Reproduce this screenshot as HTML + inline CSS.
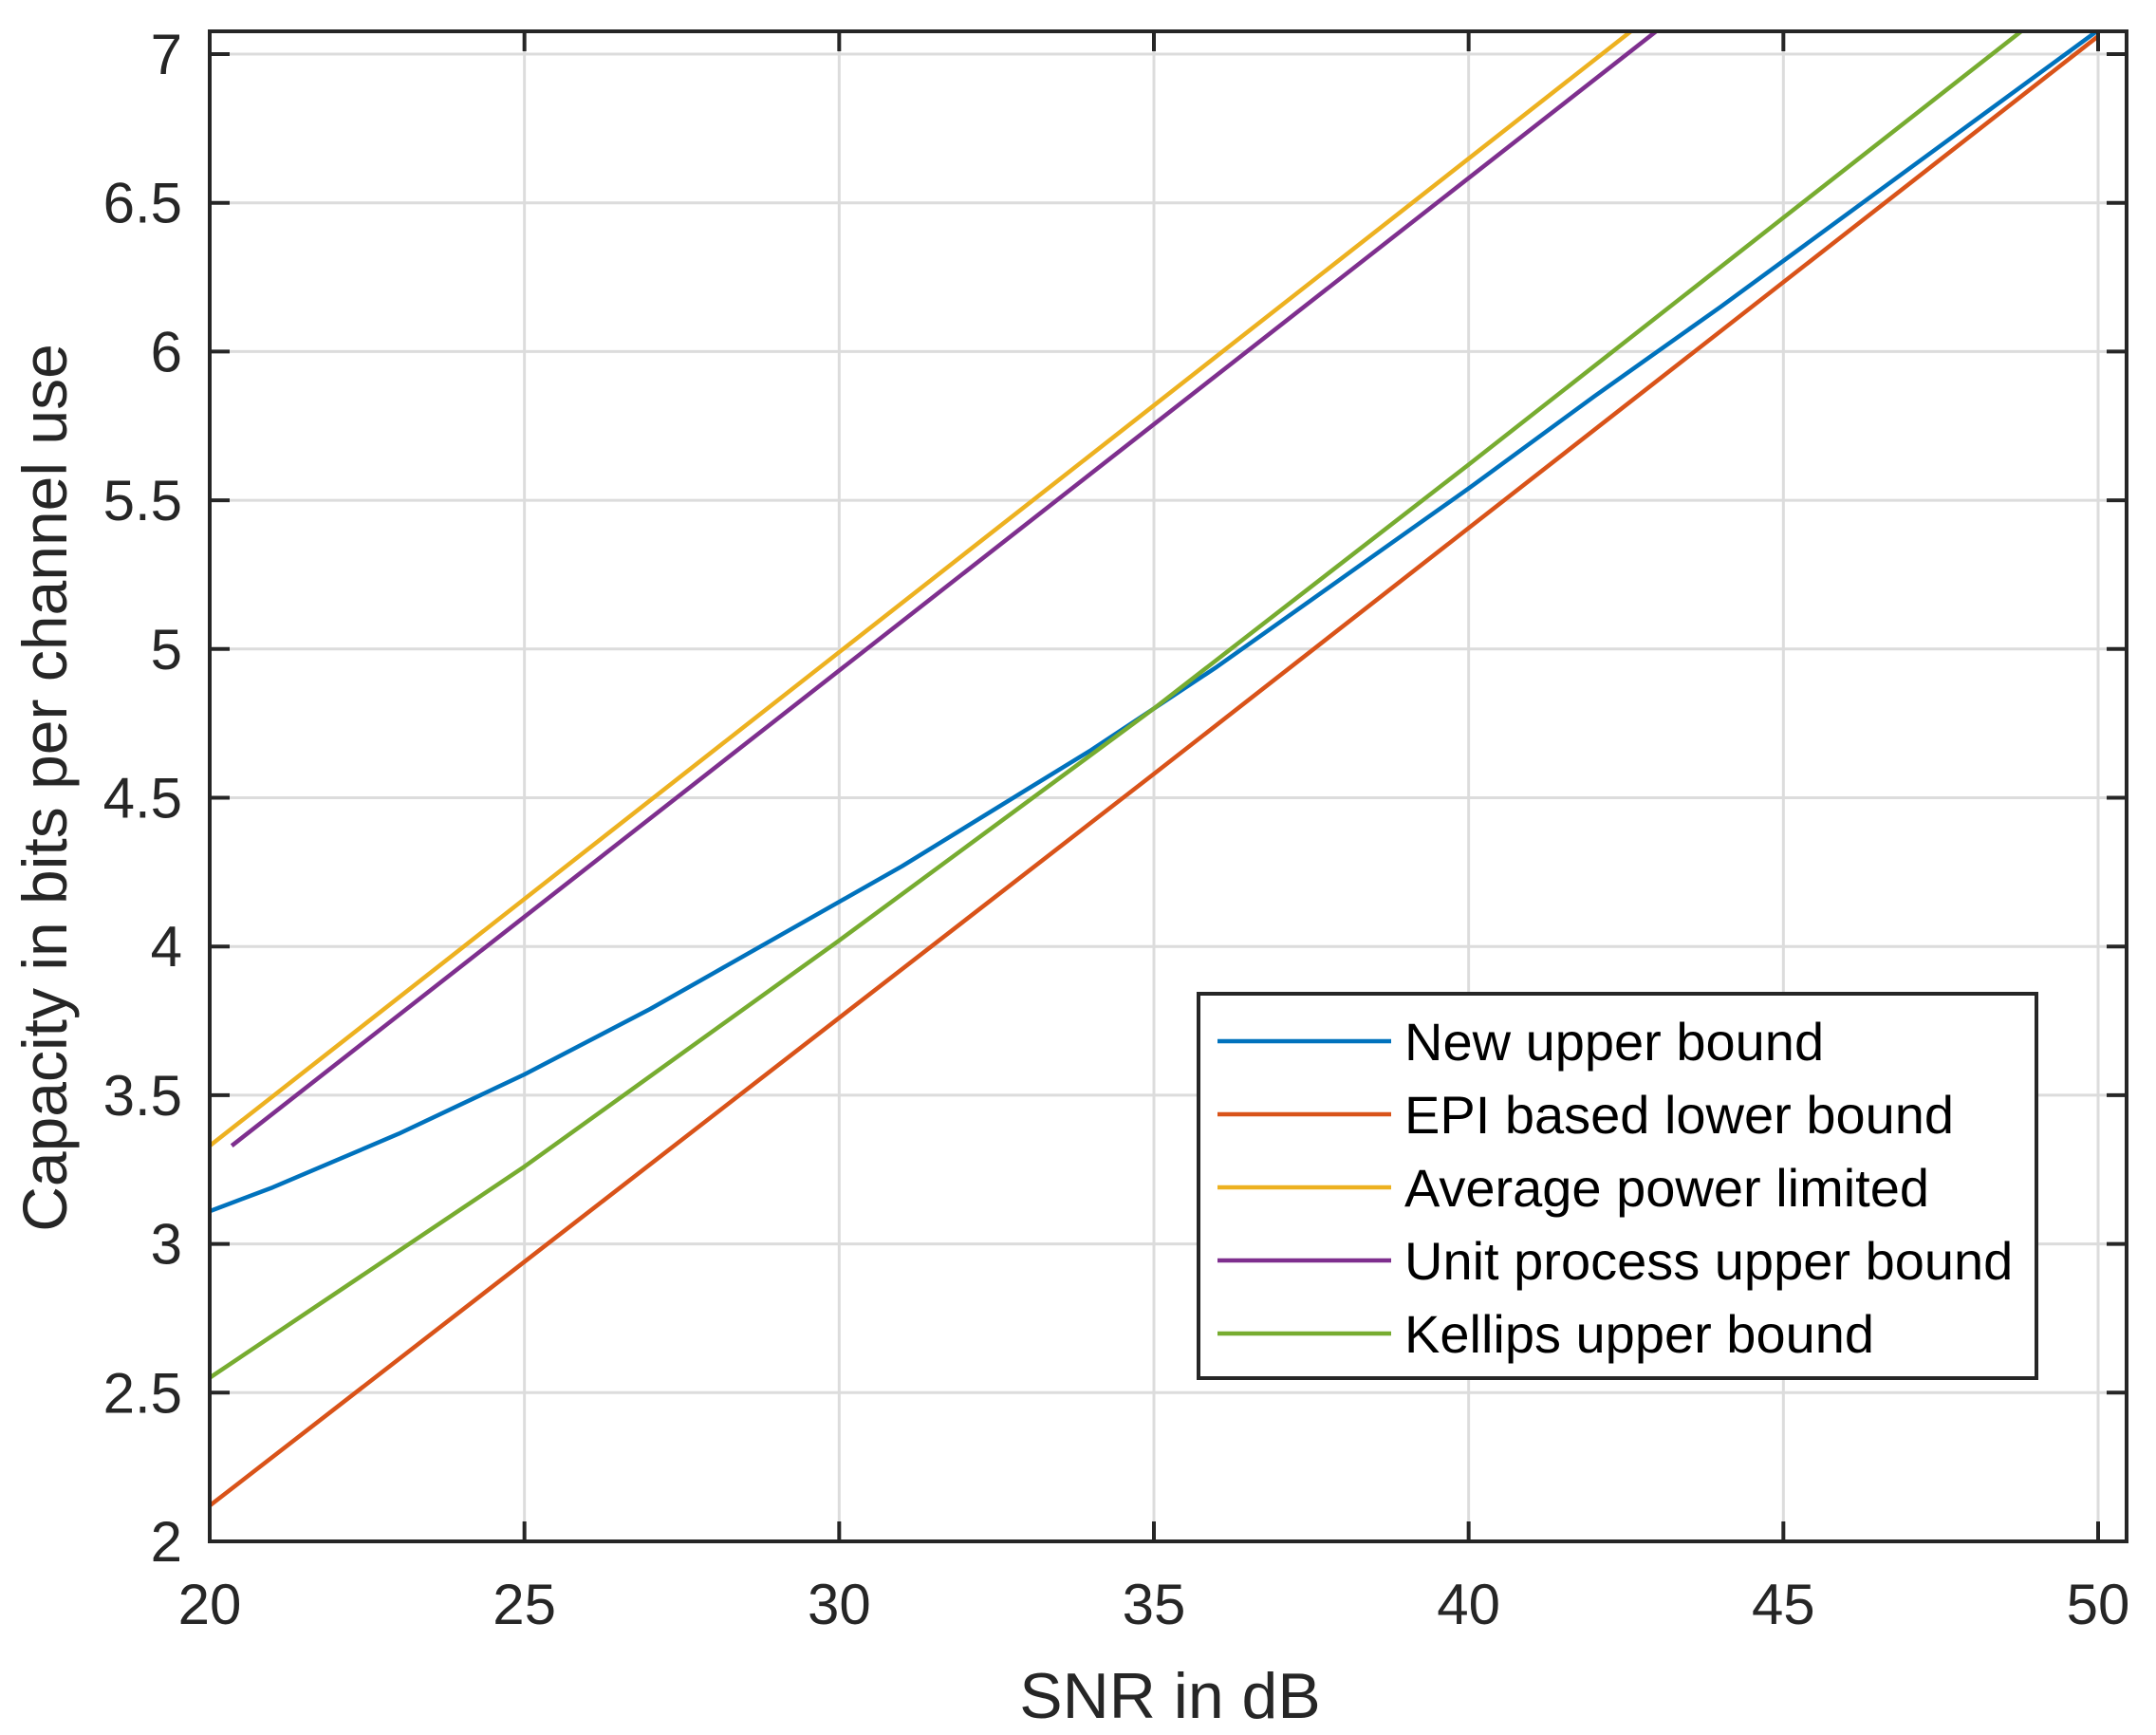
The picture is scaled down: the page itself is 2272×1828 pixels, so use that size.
<!DOCTYPE html>
<html><head><meta charset="utf-8"><style>
html,body{margin:0;padding:0;background:#fff;}
svg{display:block;font-family:"Liberation Sans",Arial,sans-serif;}
</style></head><body>
<svg id="chart" width="2272" height="1828" viewBox="0 0 2272 1828" xmlns="http://www.w3.org/2000/svg">
<defs><clipPath id="plotclip"><rect x="221" y="33" width="2020" height="1591"/></clipPath></defs>
<rect x="0" y="0" width="2272" height="1828" fill="#fff"/>
<g id="grid"></g>
<g id="series" clip-path="url(#plotclip)"></g>
<g id="axes"></g>
<text x="1233" y="1810" font-size="68" fill="#262626" text-anchor="middle">SNR in dB</text>
<text transform="translate(70,830) rotate(-90)" font-size="66" fill="#262626" text-anchor="middle">Capacity in bits per channel use</text>
<g id="legend"></g>
</svg>
<script>
const xTicks = [20, 25, 30, 35, 40, 45, 50];
const yTicks = [2, 2.5, 3, 3.5, 4, 4.5, 5, 5.5, 6, 6.5, 7];
const yTickLabels = ["2", "2.5", "3", "3.5", "4", "4.5", "5", "5.5", "6", "6.5", "7"];
const seriesNames = ["New upper bound", "EPI based lower bound", "Average power limited", "Unit process upper bound", "Kellips upper bound"];
const seriesColors = ["#0072bd", "#d95319", "#edb120", "#7e2f8e", "#77ac30"];
const newUpperX = [20, 21, 22, 23, 24, 25, 26, 27, 28, 29, 30, 31, 32, 33, 34, 35, 36, 37, 38, 39, 40, 42, 44, 46, 48, 50];
const newUpperY = [3.11, 3.19, 3.28, 3.37, 3.47, 3.57, 3.68, 3.79, 3.91, 4.03, 4.15, 4.27, 4.40, 4.53, 4.66, 4.80, 4.94, 5.09, 5.24, 5.39, 5.54, 5.85, 6.15, 6.46, 6.77, 7.08];
const epiX = [20, 35, 50];
const epiY = [2.12, 4.58, 7.06];
const avgX = [20, 42.6];
const avgY = [3.33, 7.08];
const unitX = [20.35, 43.0];
const unitY = [3.33, 7.08];
const kellipsX = [20, 25, 30, 35, 40, 45, 48.8];
const kellipsY = [2.55, 3.26, 4.02, 4.80, 5.62, 6.45, 7.08];

const NS = "http://www.w3.org/2000/svg";
const L = 221, R = 2241, T = 33, B = 1624;
function xs(v){ return 221 + (v - 20) * 66.333; }
function ys(v){ return 57 + (7 - v) * 313.4; }
function mk(tag, attrs, parent){ const e = document.createElementNS(NS, tag); for (const k in attrs) e.setAttribute(k, attrs[k]); parent.appendChild(e); return e; }

const grid = document.getElementById('grid');
const axes = document.getElementById('axes');
xTicks.forEach(v => {
  const g = mk('line', {x1: xs(v), x2: xs(v), y1: T, y2: B, stroke: '#dcdcdc', 'stroke-width': 3}, grid);
  
  
  const t1 = mk('line', {x1: xs(v), x2: xs(v), y1: B, y2: B - 21, stroke: '#262626', 'stroke-width': 4}, axes);
  
  
  const t2 = mk('line', {x1: xs(v), x2: xs(v), y1: T, y2: T + 21, stroke: '#262626', 'stroke-width': 4}, axes);
  
  
  const lb = mk('text', {x: xs(v), y: 1711, 'font-size': 60, fill: '#262626', 'text-anchor': 'middle'}, axes);
  lb.textContent = String(v);
  
  
});
yTicks.forEach((v, i) => {
  const g = mk('line', {x1: L, x2: R, y1: ys(v), y2: ys(v), stroke: '#dcdcdc', 'stroke-width': 3}, grid);
  
  
  const t1 = mk('line', {x1: L, x2: L + 21, y1: ys(v), y2: ys(v), stroke: '#262626', 'stroke-width': 4}, axes);
  
  
  const t2 = mk('line', {x1: R, x2: R - 21, y1: ys(v), y2: ys(v), stroke: '#262626', 'stroke-width': 4}, axes);
  
  
  const lb = mk('text', {x: 192, y: ys(v) + 21, 'font-size': 60, fill: '#262626', 'text-anchor': 'end'}, axes);
  lb.textContent = yTickLabels[i];
  
  
});
const box = mk('rect', {x: L, y: T, width: R - L, height: B - T, fill: 'none', stroke: '#262626', 'stroke-width': 4}, axes);



const seriesG = document.getElementById('series');
const allX = [newUpperX, epiX, avgX, unitX, kellipsX];
const allY = [newUpperY, epiY, avgY, unitY, kellipsY];
const slugs = ['new-upper-bound-line', 'epi-lower-bound-line', 'average-power-line', 'unit-process-line', 'kellips-line'];
allX.forEach((xa, i) => {
  const pts = xa.map((x, j) => xs(x).toFixed(1) + ',' + ys(allY[i][j]).toFixed(1)).join(' ');
  const pl = mk('polyline', {points: pts, fill: 'none', stroke: seriesColors[i], 'stroke-width': 4.5, 'stroke-linejoin': 'round'}, seriesG);
  
  
});

const leg = document.getElementById('legend');
const lb = mk('rect', {x: 1263, y: 1047, width: 883, height: 405, fill: '#fff', stroke: '#262626', 'stroke-width': 4}, leg);


seriesNames.forEach((n, i) => {
  const y = 1097 + i * 77;
  const ln = mk('line', {x1: 1283, x2: 1466, y1: y, y2: y, stroke: seriesColors[i], 'stroke-width': 4.5}, leg);
  
  
  const t = mk('text', {x: 1480, y: y + 20, 'font-size': 56, fill: '#000'}, leg);
  t.textContent = n;
  
  
});
</script>
</body></html>
